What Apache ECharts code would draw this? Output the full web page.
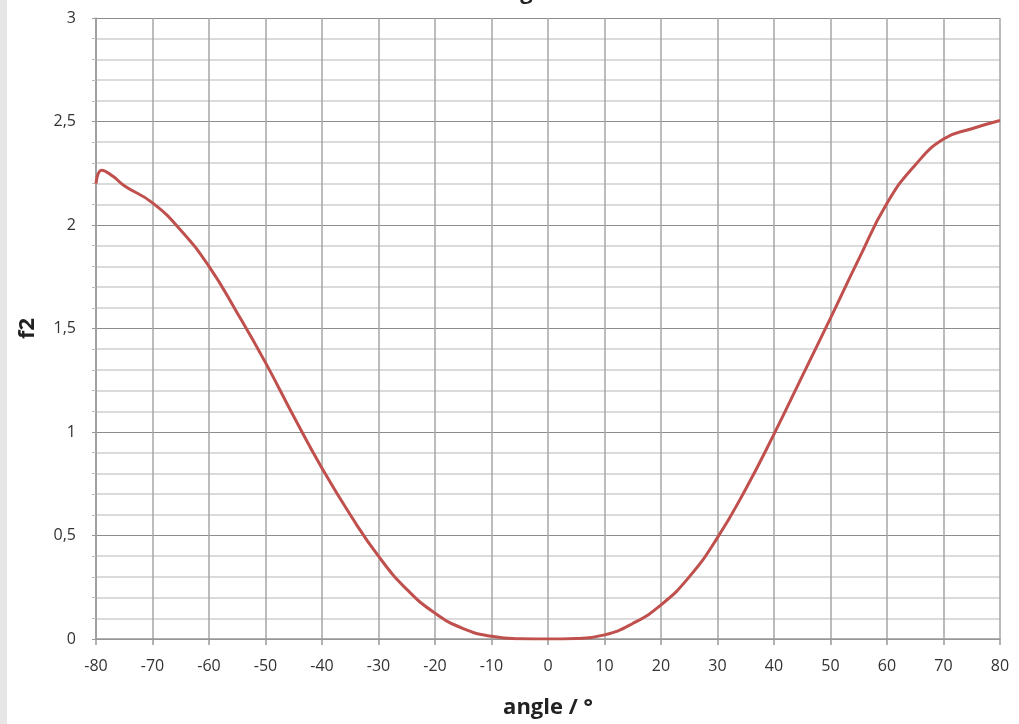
<!DOCTYPE html>
<html>
<head>
<meta charset="utf-8">
<script src="https://cdn.jsdelivr.net/npm/echarts@6/dist/echarts.min.js"></script>
<style>
html,body{margin:0;padding:0;background:#fff;}
#chart{width:1019px;height:724px;}
</style>
</head>
<body>
<div id="chart"></div>
<script>
const angles = [-80, -79, -77, -75, -70, -65, -60, -55, -50, -45, -40, -35, -30, -25, -20, -15, -10, -5, 0, 5, 10, 15, 20, 25, 30, 35, 40, 45, 50, 55, 60, 65, 70, 75, 80];
const f2 = [2.2, 2.265, 2.235, 2.19, 2.107, 1.975, 1.80, 1.575, 1.335, 1.075, 0.825, 0.60, 0.40, 0.24, 0.125, 0.05, 0.013, 0.001, 0, 0.003, 0.02, 0.075, 0.165, 0.30, 0.49, 0.725, 0.99, 1.27, 1.55, 1.835, 2.105, 2.29, 2.415, 2.465, 2.505];
const xTicks = {min: -80, max: 80, step: 10};
const yTicks = {min: 0, max: 3, step: 0.5};

const chart = echarts.init(document.getElementById('chart'));
const font = '"Open Sans", "Liberation Sans", sans-serif';
chart.setOption({
  animation: false,
  backgroundColor: '#ffffff',
  title: {
    text: 'f2 vs angle / °',
    left: 'center',
    top: -23,
    textStyle: {fontFamily: font, fontWeight: 'bold', fontSize: 22, color: '#222'}
  },
  graphic: [{
    type: 'rect', left: 0, top: 0, shape: {width: 7, height: 724},
    style: {fill: '#e6e6e6'}, silent: true
  }],
  grid: {left: 96, right: 19, top: 18, bottom: 84},
  xAxis: {
    type: 'value',
    min: xTicks.min, max: xTicks.max, interval: xTicks.step,
    name: 'angle / °',
    nameLocation: 'middle',
    nameGap: 58,
    nameTextStyle: {fontFamily: font, fontWeight: 'bold', fontSize: 22, color: '#222'},
    axisLine: {show: true, onZero: false, lineStyle: {color: '#999', width: 1.5}},
    axisTick: {show: true, inside: false, length: 6, lineStyle: {color: '#999', width: 1.5}},
    axisLabel: {fontFamily: font, fontSize: 16, color: '#333', margin: 19},
    splitLine: {show: true, lineStyle: {color: '#a6a6a6', width: 1.5}}
  },
  yAxis: {
    type: 'value',
    min: yTicks.min, max: yTicks.max, interval: yTicks.step,
    name: 'f2',
    nameLocation: 'middle',
    nameGap: 57,
    nameRotate: 90,
    nameTextStyle: {fontFamily: font, fontWeight: 'bold', fontSize: 22, color: '#222'},
    axisLine: {show: true, onZero: false, lineStyle: {color: '#999', width: 1.5}},
    axisTick: {show: true, length: 4, lineStyle: {color: '#999'}},
    minorTick: {show: true, splitNumber: 5, length: 4, lineStyle: {color: '#bbb'}},
    axisLabel: {
      fontFamily: font, fontSize: 16, color: '#333', margin: 20,
      formatter: v => String(v).replace('.', ',')
    },
    splitLine: {show: true, lineStyle: {color: '#8c8c8c', width: 1.2}},
    minorSplitLine: {show: true, lineStyle: {color: '#cfcfcf', width: 1.5}}
  },
  series: [{
    type: 'line',
    data: angles.map((a, i) => [a, f2[i]]),
    smooth: 0.5,
    symbol: 'none',
    lineStyle: {color: '#c0504d', width: 3},
    z: 5
  }]
});
</script>
</body>
</html>
